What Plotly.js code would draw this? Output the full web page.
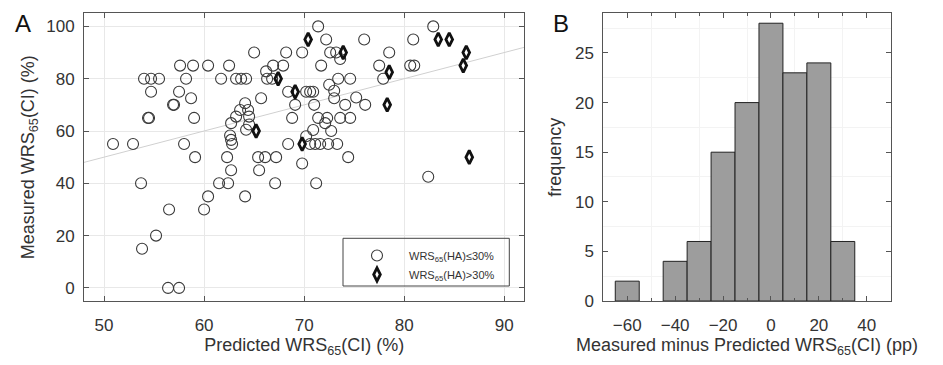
<!DOCTYPE html>
<html>
<head>
<meta charset="utf-8">
<script src="https://cdn.plot.ly/plotly-3.0.1.min.js"></script>
<style>html,body{margin:0;padding:0;background:#fff;}#chart{width:943px;height:365px;}</style>
</head>
<body>
<div id="chart"></div>
<script>
// Panel A: WRS65(HA) <= 30% (open circles)
const lowX = [71.4,82.9,72.2,76.0,80.9,65.0,68.2,69.8,72.6,73.2,73.6,78.5,
  57.6,58.9,60.4,62.5,66.2,66.9,67.9,71.7,77.5,80.6,81.0,
  54.0,54.7,55.5,58.2,61.7,63.2,63.7,64.2,66.3,66.8,73.4,74.6,77.9,72.5,
  54.7,57.5,68.4,70.2,70.6,70.9,73.0,58.7,65.7,73.0,75.2,
  56.9,57.0,64.1,69.1,71.0,74.1,76.1,63.6,64.4,
  54.4,54.5,59.0,63.2,64.5,68.8,71.4,72.3,73.6,74.6,
  62.7,64.5,72.1,64.2,70.9,72.7,62.6,62.7,70.2,
  50.9,52.9,58.0,62.8,68.4,70.6,71.1,71.6,72.4,73.3,
  59.1,62.3,65.4,66.1,67.2,74.4,69.8,62.7,65.5,
  53.7,61.5,62.4,67.1,71.2,82.4,60.4,64.1,56.5,60.0,55.2,53.8,56.4,57.5];
const lowY = [100,100,95,95,95,90,90,90,90,90,87.5,90,
  85,85,85,85,82.8,85,85,85,85,85,85,
  80,80,80,80,80,80,80,80,80,80,80,80,80,77.7,
  75,75,75,75,75,75,75.4,72.5,72.5,72.5,72.8,
  70,70,70.6,70,70,70,70,68,68,
  65,65,65,65.5,65.5,65,65,65,65,65,
  63,62.5,63,60.5,60.4,60,58.3,56.6,58,
  55,55,55,55,55,55,55,55,55,55,
  50,50,50,50,50,50,47.6,45,45,
  40,40,40,40,40,42.5,35,35,30,30,20,15,0,0];
// Panel A: WRS65(HA) > 30% (diamonds)
const highX = [65.2,67.4,69.1,69.8,70.4,73.9,78.3,78.5,83.4,84.5,86.2,85.9,86.5];
const highY = [60,80,75,55,95,90,70,82.5,95,95,90,85,50];
// identity reference line
const identityX = [48, 92];
const identityY = [48, 92];
// Panel B: histogram of measured minus predicted (pp); the -50 bin is empty
const binCenters = [-60,-40,-30,-20,-10,0,10,20,30];
const binCounts  = [2,4,6,15,20,28,23,24,6];
const legendLow = 'WRS<sub>65</sub>(HA)\u226430%';
const legendHigh = 'WRS<sub>65</sub>(HA)>30%';

const W = 943, H = 365;
const px = v => v / W;
const py = v => 1 - v / H;
const axColor = '#555';
const txtColor = '#333';
const FONT = 'Liberation Sans, Arial, sans-serif';

const traces = [
  {x: identityX, y: identityY, type: 'scatter', mode: 'lines',
   line: {color: '#d0d0d0', width: 1}, showlegend: false, hoverinfo: 'skip',
   xaxis: 'x', yaxis: 'y'},
  {x: lowX, y: lowY, type: 'scatter', mode: 'markers', name: legendLow,
   marker: {symbol: 'circle-open', size: 11, color: '#3a3a3a', line: {width: 1.1}},
   xaxis: 'x', yaxis: 'y'},
  {x: highX, y: highY, type: 'scatter', mode: 'markers', name: legendHigh,
   marker: {symbol: 'diamond-tall-open', size: 9.5, color: '#111', line: {width: 2.8}},
   xaxis: 'x', yaxis: 'y'},
  {x: binCenters, y: binCounts, type: 'bar', width: 10, showlegend: false,
   marker: {color: '#9d9d9d', line: {color: '#222', width: 1}},
   xaxis: 'x2', yaxis: 'y2'}
];

const baseAxis = {
  showline: true, linecolor: axColor, linewidth: 1, mirror: 'ticks',
  ticks: 'inside', ticklen: 5, tickcolor: axColor, zeroline: false,
  tickfont: {size: 17, color: txtColor, family: FONT}
};

const layout = {
  width: W, height: H,
  margin: {l: 0, r: 0, t: 0, b: 0},
  paper_bgcolor: '#fff', plot_bgcolor: '#fff',
  font: {family: FONT, color: txtColor},
  showlegend: true,
  legend: {x: px(345), y: py(241), xanchor: 'left', yanchor: 'top',
    bgcolor: 'rgba(0,0,0,0)', borderwidth: 0, font: {size: 11, color: txtColor},
    tracegroupgap: 0, itemwidth: 54},
  bargap: 0,
  xaxis: Object.assign({}, baseAxis, {
    domain: [px(84), px(524.3)], range: [48, 92], tick0: 50, dtick: 10,
    showgrid: true, gridcolor: '#e8e8e8', ticklabelstandoff: 9,
    title: {text: 'Predicted WRS<sub>65</sub>(CI) (%)', font: {size: 18, color: txtColor}, standoff: 3},
    anchor: 'y'}),
  yaxis: Object.assign({}, baseAxis, {
    domain: [1 - 301/H, 1 - 13.3/H], range: [-5, 105], tick0: 0, dtick: 20,
    showgrid: true, gridcolor: '#e8e8e8', ticklabelstandoff: 5,
    title: {text: 'Measured WRS<sub>65</sub>(CI) (%)', font: {size: 18, color: txtColor}, standoff: 6},
    anchor: 'x'}),
  xaxis2: Object.assign({}, baseAxis, {
    domain: [px(603.3), px(890.7)], range: [-70, 50], tick0: 0, dtick: 20,
    showgrid: false, ticklabelstandoff: 9,
    minor: {dtick: 10, ticks: 'inside', ticklen: 3, tickcolor: axColor, showgrid: true, gridcolor: '#f3f3f3'},
    title: {text: 'Measured minus Predicted WRS<sub>65</sub>(CI) (pp)', font: {size: 18, color: txtColor}, standoff: 3},
    anchor: 'y2'}),
  yaxis2: Object.assign({}, baseAxis, {
    domain: [1 - 301/H, 1 - 13.3/H], range: [0, 29], tick0: 0, dtick: 5,
    showgrid: false, ticklabelstandoff: 5,
    minor: {dtick: 2.5, ticks: '', showgrid: true, gridcolor: '#f3f3f3'},
    title: {text: 'frequency', font: {size: 18, color: txtColor}, standoff: 8},
    anchor: 'x2'}),
  shapes: [
    {type: 'rect', xref: 'paper', yref: 'paper',
     x0: px(343), x1: px(509.3), y0: py(286), y1: py(238.3),
     line: {color: '#444', width: 1}, fillcolor: 'rgba(255,255,255,0)'}
  ],
  annotations: [
    {text: 'A', xref: 'paper', yref: 'paper', x: px(23), y: py(24), showarrow: false,
     font: {size: 24, color: '#111'}, xanchor: 'center', yanchor: 'middle'},
    {text: 'B', xref: 'paper', yref: 'paper', x: px(561), y: py(24), showarrow: false,
     font: {size: 24, color: '#111'}, xanchor: 'center', yanchor: 'middle'}
  ]
};

Plotly.newPlot('chart', traces, layout, {displayModeBar: false, staticPlot: true});
</script>
</body>
</html>
